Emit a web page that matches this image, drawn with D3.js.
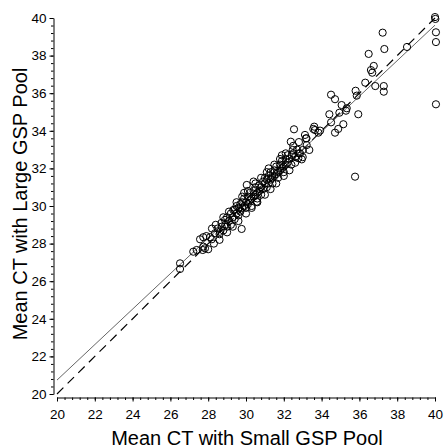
<!DOCTYPE html>
<html>
<head>
<meta charset="utf-8">
<script src="https://cdn.jsdelivr.net/npm/d3@7"></script>
<style>
	body { margin: 0; background: #fff; }
	text { font-family: "Liberation Sans", Arial, sans-serif; fill: #000; }
</style>
</head>
<body>
<svg id="chart" width="444" height="448"></svg>
<script>
'use strict';

// mean CT, small pool (x) vs large pool (y)
var smallPool = [
	40.0, 40.02, 37.23, 40.05, 40.05, 36.49, 37.32, 38.52, 36.76, 36.61, 36.68, 36.31, 36.84, 37.29, 37.29,
	35.80, 35.86, 35.06, 35.33, 40.05, 34.50, 34.71, 35.29, 34.94, 34.41, 35.94, 34.50, 35.15, 34.88, 34.71,
	33.92, 33.61, 33.56, 33.65, 33.83, 32.54, 33.12, 33.17, 32.37, 33.21, 33.00, 33.35, 32.47, 32.42, 32.86,
	32.77, 32.95, 35.77, 29.77, 30.57, 30.04, 29.33, 27.74, 27.57, 28.10, 27.83, 26.51, 26.51, 27.21, 27.39,
	27.74, 27.71, 28.19, 28.36, 28.62, 28.71, 28.89,
	28.5, 28.6, 28.7, 28.8, 28.9, 29.0, 29.0, 29.1, 29.2, 29.2, 29.3, 29.4, 29.4, 29.5, 29.5, 29.6, 29.6,
	29.7, 29.7, 29.8, 29.8, 29.9, 29.9, 30.0, 30.0, 30.1, 30.1, 30.2, 30.2, 30.3, 30.3, 30.4, 30.4, 30.5,
	30.5, 30.6, 30.6, 30.7, 30.7, 30.8, 30.8, 30.9, 30.9, 31.0, 31.0, 31.1, 31.1, 31.2, 31.2, 31.3, 31.3,
	31.4, 31.4, 31.5, 31.5, 31.6, 31.6, 31.7, 31.7, 31.8, 31.8, 31.9, 31.9, 32.0, 32.0, 32.1, 32.1, 32.2,
	32.2, 32.3, 32.4, 32.5, 32.6, 32.7, 32.8,
	27.9, 28.0, 28.2, 28.3, 28.4, 28.6, 28.8, 29.0, 29.1, 29.3, 29.5, 29.6, 29.8, 30.0, 30.1, 30.3, 30.5,
	30.6, 30.8, 31.0, 31.1, 31.3, 31.5, 31.6, 31.8, 32.0, 32.1, 32.3, 32.5, 32.6, 32.8, 33.0, 33.2, 31.2,
	30.4, 29.9, 31.9
];
var largePool = [
	40.05, 39.95, 39.22, 39.24, 38.72, 38.09, 38.35, 38.46, 37.45, 37.23, 37.09, 36.56, 36.38, 36.38, 36.08,
	36.13, 35.87, 35.37, 35.20, 35.41, 35.92, 35.68, 35.07, 34.96, 34.88, 34.88, 34.45, 34.35, 34.10, 33.90,
	34.01, 34.22, 34.10, 34.04, 33.90, 34.08, 33.78, 33.60, 33.42, 33.24, 32.98, 32.98, 32.98, 32.71, 32.80,
	32.54, 32.48, 31.56, 28.78, 30.23, 31.12, 29.79, 28.34, 28.23, 28.34, 27.75, 26.95, 26.65, 27.57, 27.66,
	27.84, 27.66, 28.23, 28.55, 28.63, 28.90, 29.26,
	28.8, 28.5, 29.1, 28.7, 29.0, 29.4, 28.9, 29.2, 29.6, 29.0, 29.4, 29.8, 29.3, 29.6, 30.0, 29.5, 29.9,
	30.1, 29.7, 30.2, 29.9, 30.0, 30.4, 30.2, 29.9, 30.5, 30.1, 30.3, 30.7, 30.4, 30.0, 30.8, 30.5, 30.6,
	31.0, 30.7, 30.4, 31.1, 30.8, 31.0, 30.6, 31.3, 30.9, 31.2, 31.5, 31.0, 31.4, 31.6, 31.2, 31.4, 31.8,
	31.5, 31.2, 31.9, 31.6, 31.7, 32.1, 31.8, 31.5, 32.2, 31.9, 32.0, 32.4, 32.1, 31.8, 32.5, 32.2, 32.3,
	32.7, 32.5, 32.2, 32.8, 32.6, 33.0, 32.8,
	28.4, 27.7, 28.8, 28.0, 29.0, 28.2, 29.4, 28.6, 29.7, 28.9, 30.2, 29.2, 30.5, 29.6, 30.8, 29.9, 31.2,
	30.2, 31.5, 30.6, 31.8, 30.9, 32.2, 31.2, 32.5, 31.6, 32.8, 31.9, 33.2, 32.3, 33.4, 32.6, 33.6, 32.0,
	31.3, 30.7, 32.7
];
var identityLine = [[20, 20], [40, 40]];
var fitLine = [[20, 20.74], [40, 39.62]];
var tickValues = [20, 22, 24, 26, 28, 30, 32, 34, 36, 38, 40];
var xTitle = "Mean CT with Small GSP Pool";
var yTitle = "Mean CT with Large GSP Pool";

var svg = d3.select("#chart");
var x = d3.scaleLinear().domain([20, 40]).range([57, 435]);
var y = d3.scaleLinear().domain([20, 40]).range([394, 18]);
var minorTicks = d3.range(0, 51).map(function (i) { return 20 + i * 0.4; });

var styleAxis = function (g) {
	g.select(".domain").attr("stroke", "#000").attr("stroke-width", 1);
	g.selectAll(".tick line").attr("stroke", "#000");
	g.selectAll(".tick text").style("font-size", "13.5px");
};

// x axis, minor then major
svg.append("g")
	.attr("transform", "translate(0,397.5)")
	.call(d3.axisBottom(x).tickValues(minorTicks).tickSize(2.5).tickSizeOuter(0).tickFormat(""))
	.call(styleAxis);
svg.append("g")
	.attr("transform", "translate(0,397.5)")
	.call(d3.axisBottom(x).tickValues(tickValues).tickSize(4).tickSizeOuter(0).tickPadding(8).tickFormat(d3.format("d")))
	.call(styleAxis)
	.call(function (g) { g.select(".domain").remove(); });

// y axis
svg.append("g")
	.attr("transform", "translate(53.5,0)")
	.call(d3.axisLeft(y).tickValues(minorTicks).tickSize(2.5).tickSizeOuter(0).tickFormat(""))
	.call(styleAxis);
svg.append("g")
	.attr("transform", "translate(53.5,0)")
	.call(d3.axisLeft(y).tickValues(tickValues).tickSize(4).tickSizeOuter(0).tickPadding(3).tickFormat(d3.format("d")))
	.call(styleAxis)
	.call(function (g) { g.select(".domain").remove(); });

var line = d3.line()
	.x(function (d) { return x(d[0]); })
	.y(function (d) { return y(d[1]); });

svg.append("path")
	.datum(identityLine)
	.attr("d", line)
	.attr("fill", "none")
	.attr("stroke", "#000")
	.attr("stroke-width", 1.2)
	.attr("stroke-dasharray", "9,6");

svg.append("path")
	.datum(fitLine)
	.attr("d", line)
	.attr("fill", "none")
	.attr("stroke", "#666")
	.attr("stroke-width", 1);

var i = -1, n = smallPool.length;
var dots = svg.append("g");
while (++i < n) {
	dots.append("circle")
		.attr("cx", x(smallPool[i]))
		.attr("cy", y(largePool[i]))
		.attr("r", 3.6)
		.attr("fill", "none")
		.attr("stroke", "#000")
		.attr("stroke-width", 1);
}

svg.append("text")
	.attr("x", 247)
	.attr("y", 445)
	.attr("text-anchor", "middle")
	.style("font-size", "20px")
	.text(xTitle);

svg.append("text")
	.attr("transform", "translate(27,204) rotate(-90)")
	.attr("text-anchor", "middle")
	.style("font-size", "20px")
	.text(yTitle);
</script>
</body>
</html>
